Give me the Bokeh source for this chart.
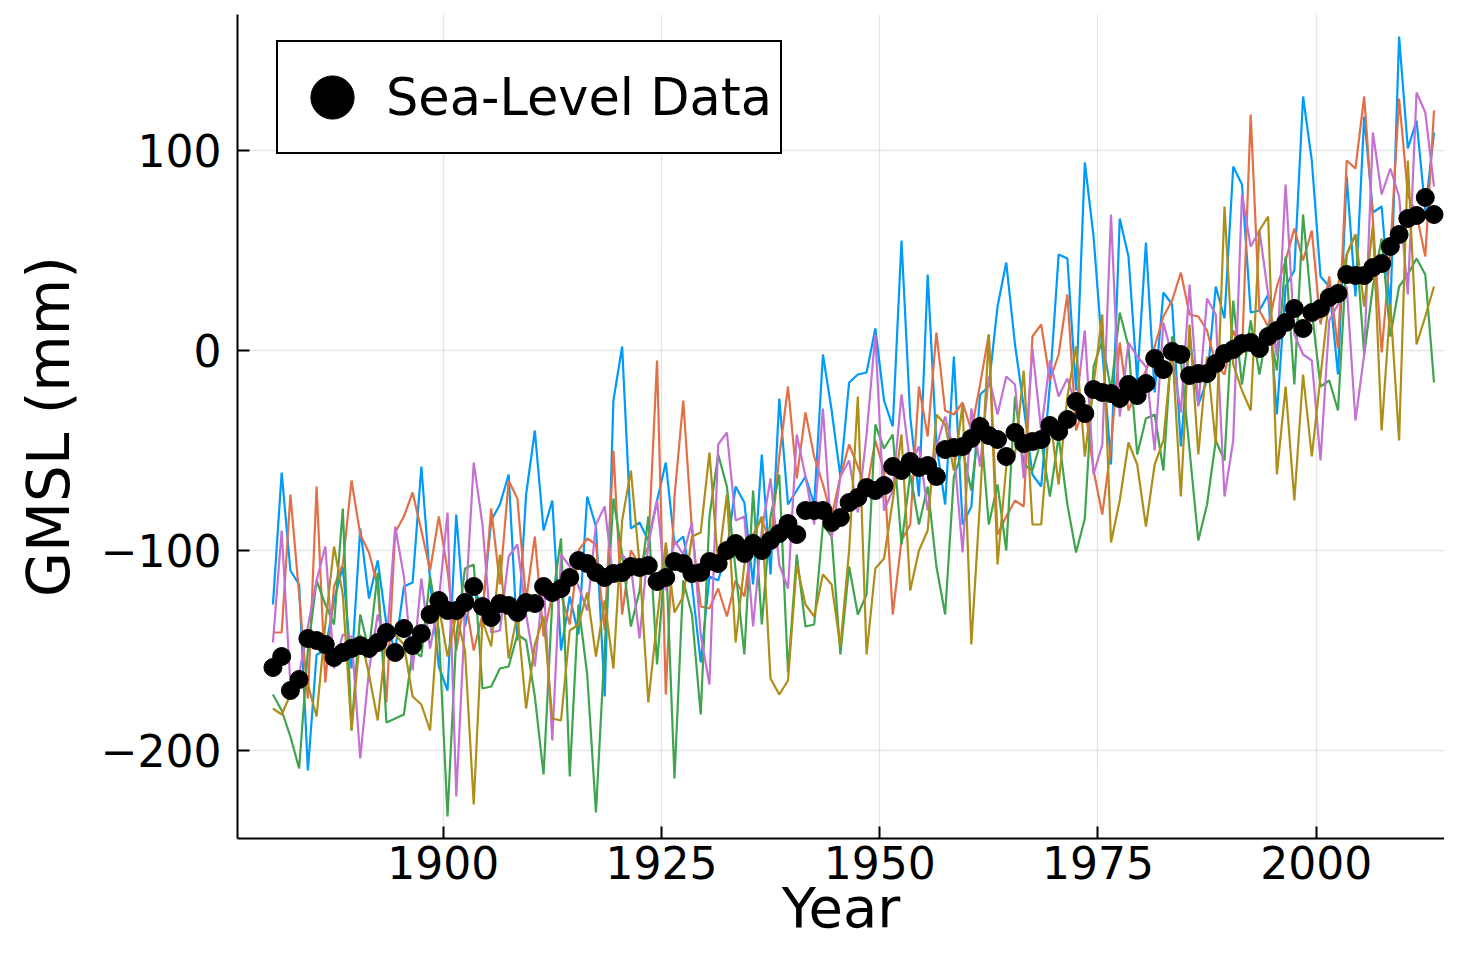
from bokeh.plotting import figure
from bokeh.models import Range1d, FixedTicker, Legend, LegendItem
from bokeh.embed import file_html
from bokeh.resources import INLINE

# ---------------- data ----------------
years = list(range(1880, 2014))
year_pos = [y + 0.5 for y in years]   # annual (mid-year) samples

sea_level = [
    -158.5, -153, -170, -164.5, -144, -145, -147, -153.5, -151, -149,
    -147.5, -149, -146, -141, -151, -139, -147.5, -141.5, -132, -125,
    -130, -130, -126, -118, -128, -133.5, -126.5, -127.5, -131, -126,
    -126.5, -118, -121, -119, -113.5, -105, -106.5, -111, -113.5, -111.5,
    -111, -108, -108.5, -107.5, -115.5, -113.5, -105.5, -106.5, -111.5, -111,
    -105.5, -106.5, -100, -96.5, -101.5, -96.5, -100, -95, -91.5, -86.5,
    -92, -80, -80, -80, -86, -83.5, -76, -73.5, -68.5, -70,
    -67.5, -58, -60, -55.5, -58.5, -57.5, -63, -49.5, -48.5, -48,
    -44, -38, -42.5, -44.5, -53, -41, -46.5, -45.5, -44.5, -37.5,
    -40.5, -34.5, -25.5, -31.5, -19.5, -21, -21.5, -24, -17, -22.5,
    -16.5, -4, -9.5, -0.5, -2, -12.5, -11.5, -11.5, -6.5, -1.5,
    0.5, 3.5, 4, 1, 7, 10, 14, 21, 11, 19,
    21, 26.5, 28.5, 38, 37.5, 37.5, 41.5, 43.5, 52, 58,
    66, 67.5, 76.5, 68,
]

sim1 = [
    -127, -61, -110, -117, -210, -152, -150, -125, -108, -159,
    -89, -124, -105, -137, -150, -118, -116, -58, -115, -158,
    -170, -82, -138, -118, -130, -85, -77, -62, -145, -72,
    -40, -90, -75, -150, -123, -142, -73, -88, -173, -25,
    2, -89, -86, -95, -75, -56, -97, -93, -117, -156,
    -113, -115, -100, -68, -76, -117, -52, -112, -24, -77,
    -70, -63, -77, -2, -30, -63, -16, -12, -11, 11,
    -25, -38, 55, -33, -73, 38, -47, -77, -3, -87,
    -78, -22, -18, 22, 44, 3, -28, -62, -68, -17,
    48, 46, -20, 94, 57, 0, -57, 66, 47, -15,
    54, -21, 29, 23, -48, 7, -27, -15, 32, 16,
    92, 83, 19, 20, 28, -32, 32, 40, 127, 95,
    37, 32, -12, 87, 27, 117, 69, 72, 20, 157,
    101, 115, 70, 109,
]

sim2 = [
    -141, -141, -72, -122, -174, -68, -166, -118, -107, -65,
    -92, -101, -118, -176, -91, -83, -71, -90, -110, -83,
    -110, -150, -123, -150, -132, -79, -117, -65, -74, -125,
    -93, -143, -122, -122, -137, -100, -94, -97, -140, -50,
    -132, -100, -107, -98, -5, -172, -73, -25, -90, -128,
    -129, -119, -133, -115, -123, -92, -84, -97, -53, -18,
    -64, -31, -53, -67, -83, -63, -47, -58, -70, -45,
    -60, -132, -95, -87, -18, -43, 9, -30, -32, -26,
    -40, -17, 8, -92, -83, -75, -78, 7, 13, -15,
    -2, 28, -40, -27, -60, -82, -48, 4, -30, -20,
    -10, 2, 17, 25, 39, 18, 17, 10, -7, -12,
    10, -2, 118, 20, 12, 32, 45, 61, 45, 60,
    13, 37, 1, 95, 91, 127, 65, -1, 50, 126,
    78, 68, 47, 120,
]

sim3 = [
    -172, -180, -193, -209, -150, -115, -127, -137, -79, -190,
    -132, -150, -111, -186, -184, -182, -150, -153, -113, -140,
    -233, -143, -109, -107, -169, -168, -159, -158, -142, -145,
    -173, -212, -125, -94, -213, -127, -162, -231, -148, -74,
    -102, -138, -120, -83, -157, -100, -214, -115, -132, -182,
    -83, -52, -68, -110, -152, -70, -137, -83, -62, -161,
    -102, -138, -137, -87, -93, -152, -108, -132, -122, -37,
    -49, -42, -97, -62, -87, -68, -108, -132, -63, -50,
    -70, -33, -87, -67, -100, -23, -57, -60, -45, -73,
    -43, -77, -101, -84, -8, 5, -20, 19, 2, -52,
    -34, -32, -60, 7, -5, -50, -95, -77, -45, -55,
    25, -17, 15, -12, 13, -10, 47, -17, 68, 20,
    -18, -15, -30, 48, 58, -2, 32, 56, 7, 32,
    38, 46, 38, -16,
]

sim4 = [
    -146, -90, -167, -162, -138, -115, -98, -159, -142, -143,
    -204, -160, -132, -148, -88, -113, -160, -114, -149, -125,
    -81, -223, -132, -56, -87, -141, -140, -103, -97, -132,
    -158, -115, -195, -102, -108, -118, -130, -87, -78, -115,
    -102, -108, -144, -97, -75, -120, -95, -102, -86, -142,
    -167, -47, -41, -85, -83, -138, -90, -64, -107, -119,
    -42, -63, -87, -29, -94, -63, -55, -81, -42, 8,
    -80, -70, -22, -57, -48, -80, -48, -33, -50, -101,
    -29, -58, -13, -32, -13, -17, -64, 1, -40, -5,
    -23, -14, -28, 10, -62, -47, 68, -33, 4, -3,
    -8, -50, 14, -3, -31, 33, -28, 26, 18, -73,
    -45, 78, 52, 60, 28, -3, 83, 8, -2, -5,
    -55, 15, 23, 32, -35, -2, 109, 78, 91, 77,
    28, 129, 119, 82,
]

sim5 = [
    -179, -182, -172, -168, -167, -183, -137, -98, -122, -190,
    -142, -162, -185, -142, -142, -147, -173, -177, -190, -128,
    -153, -132, -150, -227, -135, -148, -102, -154, -132, -179,
    -147, -133, -184, -185, -140, -137, -121, -153, -125, -159,
    -85, -60, -107, -176, -135, -96, -131, -123, -93, -91,
    -51, -107, -72, -146, -107, -93, -83, -164, -172, -165,
    -107, -127, -133, -112, -117, -148, -100, -23, -152, -109,
    -104, -75, -42, -120, -100, -90, -32, -37, -60, -27,
    -147, -75, 8, -107, -58, -52, -10, -87, -87, -33,
    -67, -23, 2, -53, -17, 18, -96, -75, -46, -57,
    -88, -57, -45, 2, -73, 13, -52, -3, -47, 72,
    -7, -20, -30, 60, 67, -62, -18, -75, -12, -53,
    -13, 27, 33, 48, 58, 22, 63, -40, 23, -45,
    95, 3, 17, 32,
]

sims = [sim1, sim2, sim3, sim4, sim5]
sim_colors = ["#009AFA", "#E36F47", "#3EA44E", "#C371D2", "#AC8E18"]

x_ticks = [1900, 1925, 1950, 1975, 2000]
y_ticks = [-200, -100, 0, 100]
y_tick_labels = ["\u2212200", "\u2212100", "0", "100"]

x_title = "Year"
y_title = "GMSL (mm)"
legend_label = "Sea-Level Data"

FONT = "DejaVu Sans"

# ---------------- figure ----------------
p = figure(
    width=1444, height=950,
    x_range=Range1d(1876.44, 2014.70),
    y_range=Range1d(-244, 168),
    output_backend="svg", toolbar_location=None,
    min_border_left=237, min_border_right=0,
    min_border_top=14, min_border_bottom=112,
    x_axis_label=x_title, y_axis_label=y_title,
)
p.outline_line_color = None
p.background_fill_color = "white"
p.border_fill_color = "white"

for vals, col in zip(sims, sim_colors):
    p.line(year_pos, vals, line_color=col, line_width=2.2)

sc = p.scatter(year_pos, sea_level, size=18, fill_color="black",
               line_color="black", marker="circle")

# axes
p.xaxis.ticker = FixedTicker(ticks=x_ticks)
p.yaxis.ticker = FixedTicker(ticks=y_ticks)
p.yaxis.major_label_overrides = {t: l for t, l in zip(y_ticks, y_tick_labels)}
for ax in (p.xaxis, p.yaxis):
    ax.axis_line_width = 2
    ax.axis_line_color = "black"
    ax.major_tick_in = 12
    ax.major_tick_out = 0
    ax.major_tick_line_width = 2
    ax.minor_tick_line_color = None
    ax.major_label_text_font = FONT
    ax.major_label_text_font_size = "44px"
    ax.major_label_text_color = "black"
    ax.axis_label_text_font = FONT
    ax.axis_label_text_font_size = "58px"
    ax.axis_label_text_font_style = "normal"
    ax.axis_label_text_color = "black"
p.xaxis.axis_label_text_font_size = "56px"
p.xaxis.major_label_standoff = 7
p.xaxis.axis_label_standoff = -7
p.yaxis.major_label_standoff = 16
p.yaxis.axis_label_standoff = 15

for g in (p.xgrid, p.ygrid):
    g.grid_line_color = "black"
    g.grid_line_alpha = 0.1
    g.grid_line_width = 1.3

legend = Legend(
    items=[LegendItem(label=legend_label, renderers=[sc])],
    location=(39, 684),
    glyph_width=108, glyph_height=110,
    label_standoff=0, label_width=394,
    padding=0, margin=0, spacing=0,
    border_line_color="black", border_line_width=2, border_line_alpha=1.0,
    background_fill_color="white", background_fill_alpha=1.0,
    label_text_font=FONT, label_text_font_size="51px",
    label_text_color="black",
)
p.add_layout(legend)

open("out.html", "w").write(file_html(p, INLINE))
